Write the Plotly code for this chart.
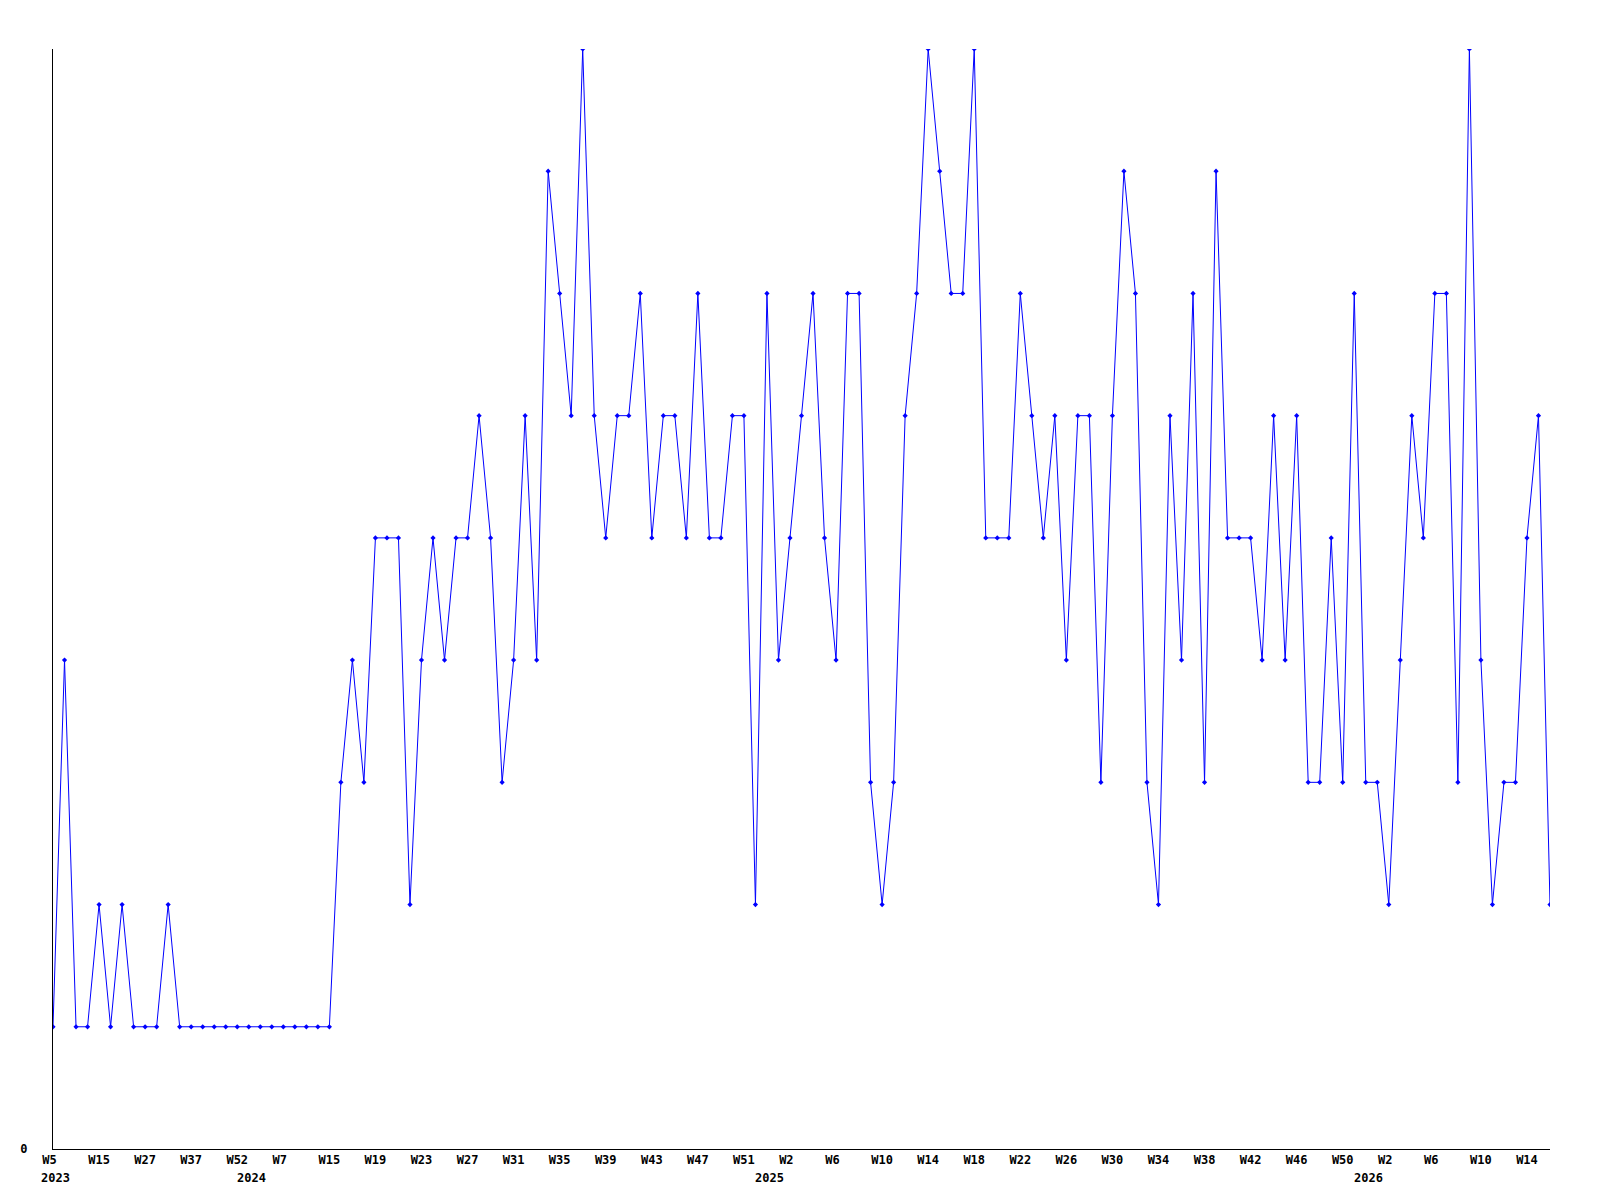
import plotly.graph_objects as go

# Week numbers per year (x categories, in order)
weeks_2023 = [5, 7, 10, 12, 15, 18, 21, 24, 27, 29, 32, 34, 37, 40, 44, 48, 52]
weeks_2024 = [1, 3, 5, 7, 9, 11, 13] + list(range(15, 53))
weeks_2025 = list(range(0, 52))
weeks_2026 = list(range(0, 17))
years = [2023, 2024, 2025, 2026]

values = [
    1, 4, 1, 1, 2, 1, 2, 1, 1, 1, 2, 1, 1, 1, 1, 1, 1, 1, 1, 1,
    1, 1, 1, 1, 1, 3, 4, 3, 5, 5, 5, 2, 4, 5, 4, 5, 5, 6, 5, 3,
    4, 6, 4, 8, 7, 6, 9, 6, 5, 6, 6, 7, 5, 6, 6, 5, 7, 5, 5, 6,
    6, 2, 7, 4, 5, 6, 7, 5, 4, 7, 7, 3, 2, 3, 6, 7, 9, 8, 7, 7,
    9, 5, 5, 5, 7, 6, 5, 6, 4, 6, 6, 3, 6, 8, 7, 3, 2, 6, 4, 7,
    3, 8, 5, 5, 5, 4, 6, 4, 6, 3, 3, 5, 3, 7, 3, 3, 2, 4, 6, 5,
    7, 7, 3, 9, 4, 2, 3, 3, 5, 6, 2,
]

cats, week_nums, year_of = [], [], []
for yr, wk in zip(years, [weeks_2023, weeks_2024, weeks_2025, weeks_2026]):
    for w in wk:
        cats.append(f"{yr}-W{w:02d}")
        week_nums.append(w)
        year_of.append(yr)

NBSP = "\u00a0"
tick_idx = list(range(0, len(cats), 4))
tickvals = [cats[i] for i in tick_idx]
ticktext = [f"W{week_nums[i]}".ljust(3, NBSP) for i in tick_idx]

FONT = dict(family="DejaVu Sans Mono", size=12, color="black", weight="bold")

fig = go.Figure()
fig.add_trace(go.Scatter(
    x=cats, y=values, mode="lines+markers",
    line=dict(color="#0000FF", width=1),
    marker=dict(symbol="diamond", size=4, color="#0000FF"),
    hoverinfo="x+y",
))

annotations = []
first_seen = set()
for i, yr in enumerate(year_of):
    if yr not in first_seen:
        first_seen.add(yr)
        annotations.append(dict(
            x=cats[i], xref="x", y=0, yref="paper",
            text=str(yr), showarrow=False, xanchor="left", yanchor="top",
            xshift=-14, yshift=-20, font=FONT,
        ))

fig.update_layout(
    width=1600, height=1200,
    margin=dict(l=40, r=58, t=41, b=59, pad=0),
    paper_bgcolor="white", plot_bgcolor="white",
    showlegend=False,
    font=FONT,
    annotations=annotations,
    xaxis=dict(
        type="category", categoryorder="array", categoryarray=cats,
        range=[0, len(cats) - 1],
        tickmode="array", tickvals=tickvals, ticktext=ticktext,
        ticks="", showgrid=False, zeroline=False,
        showline=True, linecolor="black", linewidth=1,
        tickfont=FONT,
    ),
    yaxis=dict(
        range=[0, 9], tickmode="array", tickvals=[0], ticktext=["0"],
        ticks="", showgrid=False, zeroline=False,
        showline=True, linecolor="black", linewidth=1,
        tickfont=FONT, ticklabelstandoff=22,
    ),
)

fig.write_html("out.html")
